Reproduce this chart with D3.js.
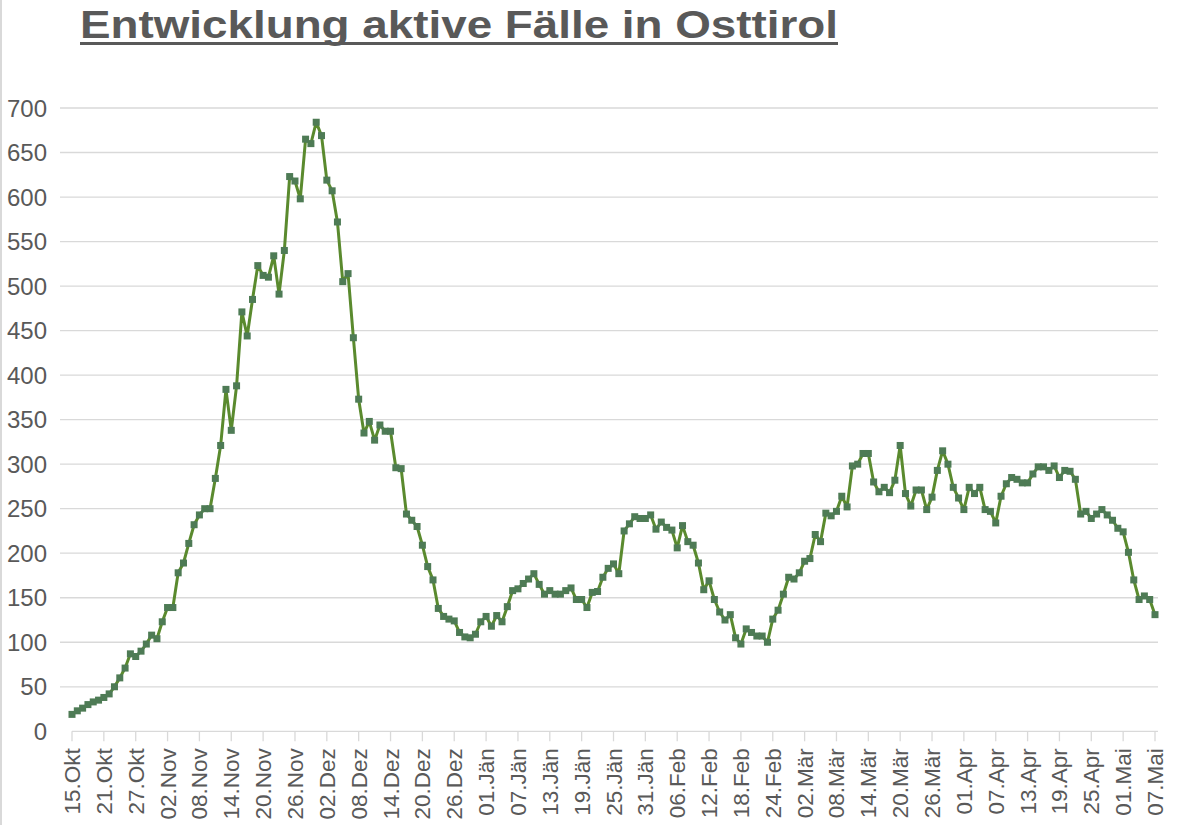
<!DOCTYPE html>
<html><head><meta charset="utf-8">
<script src="https://cdn.jsdelivr.net/npm/d3@7"></script>
<style>body{margin:0;background:#fff}svg{display:block}text{font-family:"Liberation Sans",Arial,sans-serif}</style>
</head><body>
<svg id="chart" width="1200" height="825"></svg>
<script>
const title = "Entwicklung aktive Fälle in Osttirol";
const activeCases = [19,23,26,30,33,35,38,42,50,60,71,87,84,90,98,108,104,123,139,139,178,189,211,232,243,250,250,284,321,384,338,388,471,444,485,523,512,510,534,491,540,623,618,598,665,660,684,669,619,607,572,505,514,442,373,335,348,327,344,337,337,296,295,244,237,230,209,185,170,138,129,126,124,111,106,105,109,123,129,118,130,123,140,158,160,166,171,177,165,154,158,154,154,158,161,148,148,139,156,157,173,183,188,177,225,233,241,239,239,243,227,235,229,226,206,231,213,209,189,159,169,148,134,125,131,105,98,115,111,107,107,100,126,136,154,173,171,178,191,194,221,213,245,242,247,264,252,298,300,312,312,280,269,274,268,282,321,267,253,271,271,249,263,293,315,300,274,262,249,274,267,274,249,247,234,264,278,285,283,279,279,289,297,297,293,298,285,293,292,283,244,247,239,244,249,243,237,228,224,201,170,148,152,148,131];
const xTickLabels = ["15.Okt","21.Okt","27.Okt","02.Nov","08.Nov","14.Nov","20.Nov","26.Nov","02.Dez","08.Dez","14.Dez","20.Dez","26.Dez","01.Jän","07.Jän","13.Jän","19.Jän","25.Jän","31.Jän","06.Feb","12.Feb","18.Feb","24.Feb","02.Mär","08.Mär","14.Mär","20.Mär","26.Mär","01.Apr","07.Apr","13.Apr","19.Apr","25.Apr","01.Mai","07.Mai"];
const xTickStep = 6;
const yTicks = [0,50,100,150,200,250,300,350,400,450,500,550,600,650,700];

const svg = d3.select("#chart");
const grey = "#595959";
const x = d3.scaleLinear().domain([0, activeCases.length-1]).range([72, 1155]);
const y = d3.scaleLinear().domain([0, 700]).range([731.3, 108]);

// chart border (left)
svg.append("line").attr("x1",1).attr("x2",1).attr("y1",0).attr("y2",825).attr("stroke","#d9d9d9").attr("stroke-width",2);

// title
svg.append("text").attr("x",80).attr("y",38).attr("font-size",38).attr("font-weight","bold")
  .attr("fill",grey).attr("textLength",758).attr("lengthAdjust","spacingAndGlyphs").text(title);
svg.append("rect").attr("x",80).attr("y",42).attr("width",758).attr("height",3).attr("fill",grey);

// gridlines
svg.append("g").selectAll("line").data(yTicks.filter(d=>d>0)).join("line")
  .attr("x1",60).attr("x2",1158).attr("y1",d=>y(d)).attr("y2",d=>y(d))
  .attr("stroke","#d9d9d9").attr("stroke-width",1.3);

// y labels
svg.append("g").selectAll("text").data(yTicks).join("text")
  .attr("x",47).attr("y",d=>y(d)+8.5).attr("text-anchor","end").attr("font-size",24).attr("fill",grey)
  .text(d=>d);

// x axis
svg.append("line").attr("x1",72).attr("x2",1158).attr("y1",y(0)).attr("y2",y(0)).attr("stroke","#d9d9d9").attr("stroke-width",1.3);
const xt = svg.append("g").selectAll("g").data(xTickLabels).join("g")
  .attr("transform",(d,i)=>`translate(${x(i*xTickStep)},${y(0)})`);
xt.append("line").attr("y1",0).attr("y2",10).attr("stroke","#d9d9d9").attr("stroke-width",1.3);
xt.append("text").attr("transform","rotate(-90)").attr("x",-17).attr("y",8).attr("text-anchor","end")
  .attr("font-size",22.5).attr("fill",grey).text(d=>d);

// line
svg.append("path").datum(activeCases)
  .attr("d", d3.line().x((d,i)=>x(i)).y(d=>y(d)))
  .attr("fill","none").attr("stroke","#5a8a2e").attr("stroke-width",3).attr("stroke-linejoin","round");
svg.append("g").selectAll("rect").data(activeCases).join("rect")
  .attr("x",(d,i)=>x(i)-3.5).attr("y",d=>y(d)-3.5).attr("width",7).attr("height",7)
  .attr("fill","#4e7b55");
</script>
</body></html>
